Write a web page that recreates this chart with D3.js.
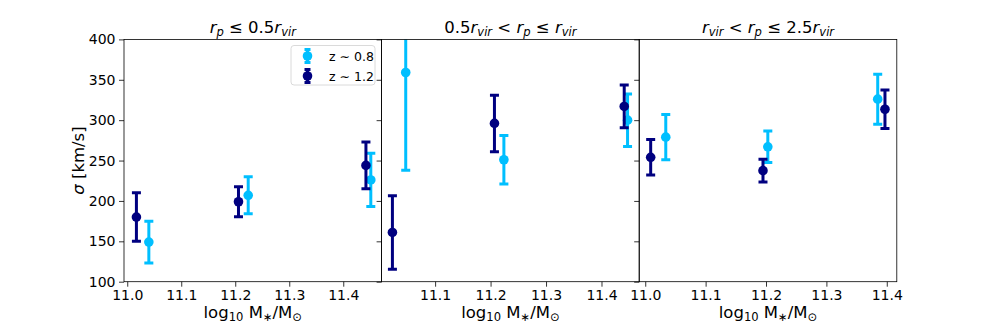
<!DOCTYPE html>
<html>
<head>
<meta charset="utf-8">
<script src="https://cdn.jsdelivr.net/npm/d3@7"></script>
<style>
  body { margin: 0; background: #fff; }
  svg text { font-family: "DejaVu Sans", sans-serif; fill: #000; }
</style>
</head>
<body>
<div id="chart"></div>
<script>
// series colours / labels
var seriesNames = ["z ∼ 0.8", "z ∼ 1.2"];
var seriesColors = ["#00bfff", "#000080"];

// panel 1 : r_p <= 0.5 r_vir
var p1LowZx = [11.040, 11.224, 11.451];
var p1LowZy = [149, 207, 226];
var p1LowZerr = [26, 23, 33];
var p1HighZx = [11.017, 11.206, 11.442];
var p1HighZy = [180, 199, 244];
var p1HighZerr = [30, 18.5, 29];

// panel 2 : 0.5 r_vir < r_p <= r_vir
var p2LowZx = [11.047, 11.224, 11.447];
var p2LowZy = [359, 251, 300];
var p2LowZerr = [121, 30, 32.5];
var p2HighZx = [11.023, 11.207, 11.441];
var p2HighZy = [161, 296, 317];
var p2HighZerr = [45.5, 35, 26.5];

// panel 3 : r_vir < r_p <= 2.5 r_vir
var p3LowZx = [11.034, 11.203, 11.385];
var p3LowZy = [279, 267, 326];
var p3LowZerr = [28, 19.5, 31];
var p3HighZx = [11.009, 11.195, 11.397];
var p3HighZy = [254, 237.5, 313.5];
var p3HighZerr = [22, 14, 23.7];

var yTicks = [100, 150, 200, 250, 300, 350, 400];
var xTicks = [11.0, 11.1, 11.2, 11.3, 11.4];

var xDomains = [[10.994, 11.471], [11.0035, 11.468], [10.990, 11.4166]];

function zip(xs, ys, es) {
    return xs.map(function(x, i) { return {x: x, y: ys[i], e: es[i]}; });
}

var panels = [
    {title: [["r", "i"], ["p", "si"], [" ≤ 0.5", ""], ["r", "i"], ["vir", "si"]],
     series: [zip(p1LowZx, p1LowZy, p1LowZerr), zip(p1HighZx, p1HighZy, p1HighZerr)]},
    {title: [["0.5", ""], ["r", "i"], ["vir", "si"], [" < ", ""], ["r", "i"], ["p", "si"], [" ≤ ", ""], ["r", "i"], ["vir", "si"]],
     series: [zip(p2LowZx, p2LowZy, p2LowZerr), zip(p2HighZx, p2HighZy, p2HighZerr)]},
    {title: [["r", "i"], ["vir", "si"], [" < ", ""], ["r", "i"], ["p", "si"], [" ≤ 2.5", ""], ["r", "i"], ["vir", "si"]],
     series: [zip(p3LowZx, p3LowZy, p3LowZerr), zip(p3HighZx, p3HighZy, p3HighZerr)]}
];

var width = 997,
    height = 332,
    plotLeft = 124,
    plotTop = 39.4,
    plotBottom = 281.7,
    panelW = 257.6;

var svg = d3.select("#chart")
    .append("svg")
    .attr("width", width)
    .attr("height", height);

var y = d3.scaleLinear()
    .domain([100, 400])
    .range([plotBottom, plotTop]);

// writes mathtext-ish runs: "i" italic, "s" subscript
function mathText(sel, parts, size) {
    parts.forEach(function(p) {
        var t = sel.append("tspan").text(p[0]);
        if (p[1].indexOf("i") >= 0) t.style("font-style", "italic");
        if (p[1].indexOf("s") >= 0) {
            t.attr("baseline-shift", "-25%").style("font-size", (size * 0.7) + "px");
        }
    });
}

panels.forEach(function(panel, k) {
    var x0 = plotLeft + k * panelW;
    var x = d3.scaleLinear()
        .domain(xDomains[k])
        .range([x0, x0 + panelW]);

    var g = svg.append("g");

    svg.append("clipPath")
        .attr("id", "clip" + k)
        .append("rect")
        .attr("x", x0)
        .attr("y", plotTop)
        .attr("width", panelW)
        .attr("height", plotBottom - plotTop);

    // x axis
    var xAxis = d3.axisBottom(x)
        .tickValues(xTicks.filter(function(t) { return t >= xDomains[k][0] && t <= xDomains[k][1]; }))
        .tickFormat(d3.format(".1f"))
        .tickSize(5)
        .tickPadding(3.5);
    var gx = g.append("g")
        .attr("transform", "translate(0," + plotBottom + ")")
        .call(xAxis);
    gx.select(".domain").remove();
    gx.selectAll("text").style("font-size", "14px").style("font-family", "DejaVu Sans");
    gx.selectAll("line").attr("stroke", "#000").attr("stroke-width", 0.8);

    // y axis
    var yAxis = d3.axisLeft(y)
        .tickValues(yTicks)
        .tickSize(5)
        .tickPadding(3.5)
        .tickFormat(k === 0 ? d3.format("d") : "");
    var gy = g.append("g")
        .attr("transform", "translate(" + x0 + ",0)")
        .call(yAxis);
    gy.select(".domain").remove();
    gy.selectAll("text").style("font-size", "14px").style("font-family", "DejaVu Sans");
    gy.selectAll("line").attr("stroke", "#000").attr("stroke-width", 0.8);

    // data
    var plot = g.append("g").attr("clip-path", "url(#clip" + k + ")");
    panel.series.forEach(function(pts, s) {
        var sg = plot.append("g").attr("stroke", seriesColors[s]).attr("fill", seriesColors[s]);
        pts.forEach(function(d) {
            var cx = x(d.x);
            sg.append("line")
                .attr("x1", cx).attr("x2", cx)
                .attr("y1", y(d.y - d.e)).attr("y2", y(d.y + d.e))
                .attr("stroke-width", 3);
            [d.y - d.e, d.y + d.e].forEach(function(v) {
                sg.append("line")
                    .attr("x1", cx - 4.5).attr("x2", cx + 4.5)
                    .attr("y1", y(v)).attr("y2", y(v))
                    .attr("stroke-width", 3);
            });
            sg.append("circle")
                .attr("cx", cx).attr("cy", y(d.y))
                .attr("r", 4.8)
                .attr("stroke", "none");
        });
    });

    // frame
    g.append("rect")
        .attr("x", x0).attr("y", plotTop)
        .attr("width", panelW).attr("height", plotBottom - plotTop)
        .attr("fill", "none")
        .attr("stroke", "#000")
        .attr("stroke-width", 0.8);

    // title
    var title = g.append("text")
        .attr("x", x0 + panelW / 2)
        .attr("y", 33)
        .attr("text-anchor", "middle")
        .style("font-size", "16.5px");
    mathText(title, panel.title, 16.5);

    // x label
    var xl = g.append("text")
        .attr("x", x0 + panelW / 2)
        .attr("y", 318)
        .attr("text-anchor", "middle")
        .style("font-size", "16.5px");
    mathText(xl, [["log", ""], ["10", "s"], [" M", ""], ["∗", "s"], ["/M", ""], ["⊙", "s"]], 16.5);
});

// y label
var yl = svg.append("text")
    .attr("transform", "translate(84," + ((plotTop + plotBottom) / 2) + ") rotate(-90)")
    .attr("text-anchor", "middle")
    .style("font-size", "16.5px");
mathText(yl, [["σ", "i"], [" [km/s]", ""]], 16.5);

// legend
var lg = svg.append("g");
lg.append("rect")
    .attr("x", 291).attr("y", 45.5)
    .attr("width", 84).attr("height", 39.5)
    .attr("rx", 3)
    .attr("fill", "#fff")
    .attr("fill-opacity", 0.8)
    .attr("stroke", "#d0d0d0")
    .attr("stroke-width", 0.8);

seriesNames.forEach(function(name, s) {
    var cy = 56 + s * 20, cx = 307.5;
    var e = lg.append("g").attr("stroke", seriesColors[s]).attr("fill", seriesColors[s]);
    e.append("line").attr("x1", cx).attr("x2", cx).attr("y1", cy - 6.5).attr("y2", cy + 6.5).attr("stroke-width", 3);
    [cy - 6.5, cy + 6.5].forEach(function(v) {
        e.append("line").attr("x1", cx - 3).attr("x2", cx + 3).attr("y1", v).attr("y2", v).attr("stroke-width", 3);
    });
    e.append("circle").attr("cx", cx).attr("cy", cy).attr("r", 4.8).attr("stroke", "none");
    lg.append("text")
        .attr("x", 329)
        .attr("y", cy + 4.5)
        .style("font-size", "12.5px")
        .text(name);
});
</script>
</body>
</html>
